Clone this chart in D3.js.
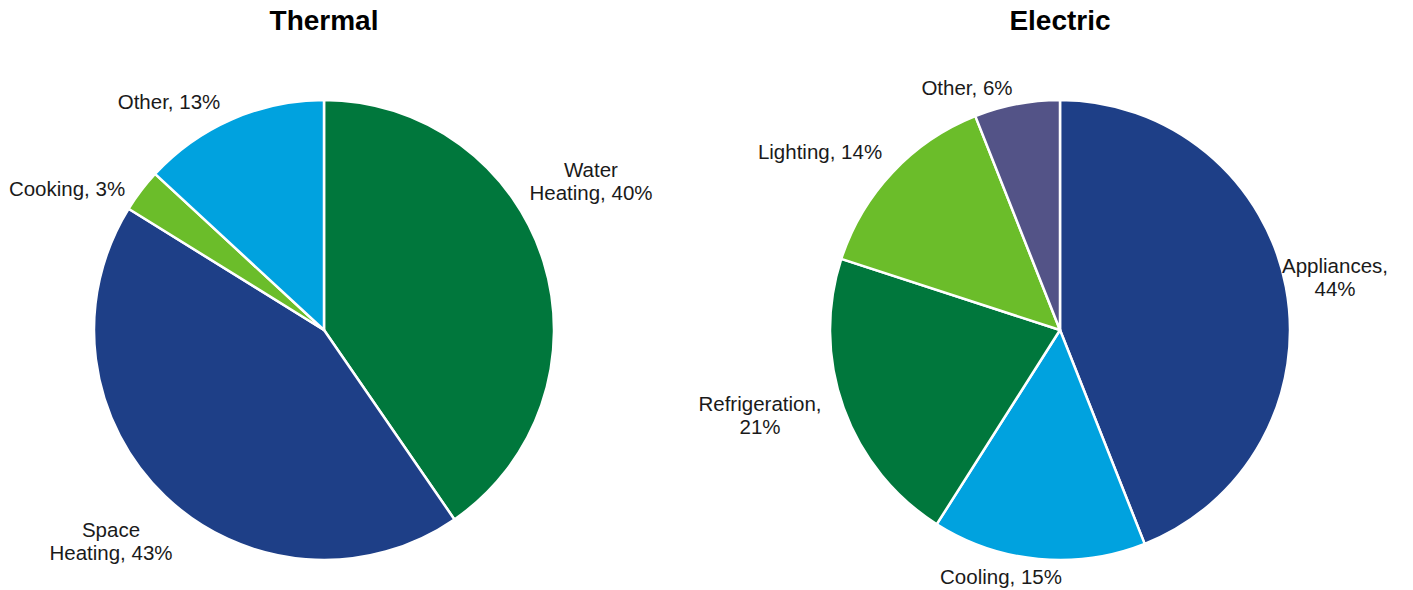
<!DOCTYPE html>
<html>
<head>
<meta charset="utf-8">
<script src="https://cdn.jsdelivr.net/npm/d3@7"></script>
<style>
  body { margin: 0; background: #fff; }
  text { font-family: Arial, "Liberation Sans", sans-serif; fill: #1a1a1a; }
</style>
</head>
<body>
<div class="vis"></div>
<script>
const width = 1413;
const height = 590;
const radius = 230;

// Thermal data (clockwise from 12 o'clock)
const thermalCategories = ["Water Heating", "Space Heating", "Cooking", "Other"];
const thermalValues = [40, 43, 3, 13];

// Electric data
const electricCategories = ["Appliances", "Cooling", "Refrigeration", "Lighting", "Other"];
const electricValues = [44, 15, 21, 14, 6];

// Colours per slice
const thermalColors = ["#00773c", "#1e3f87", "#6bbd2a", "#00a2df"];
const electricColors = ["#1e3f87", "#00a2df", "#00773c", "#6bbd2a", "#535387"];

// Label placement relative to pie centre, and whether to wrap at the first space
const thermalLabelPos = [[267, -153, true], [-213, 207, true], [-257, -134, false], [-155, -221, false]];
const electricLabelPos = [[275, -57, true], [-59, 254, false], [-300, 81, true], [-240, -171, false], [-93, -235, false]];

const svg = d3.select(".vis").append("svg")
    .attr("width", width)
    .attr("height", height);

function drawPie(title, cx, cy, categories, values, colors, labelPos) {
    const dataset = categories.map((c, i) => ({ name: c, value: values[i], idx: i }));

    const pie = d3.pie()
        .value(d => d.value)
        .sort(null);

    const arc = d3.arc()
        .innerRadius(0)
        .outerRadius(radius);

    const g = svg.append("g")
        .attr("transform", `translate(${cx}, ${cy})`);

    g.selectAll("path")
        .data(pie(dataset))
        .enter()
        .append("path")
        .attr("d", arc)
        .attr("fill", d => colors[d.data.idx])
        .attr("stroke", "#fff")
        .attr("stroke-width", 2.5)
        .attr("stroke-linejoin", "round");

    // Title
    svg.append("text")
        .attr("x", cx)
        .attr("y", 30)
        .attr("text-anchor", "middle")
        .style("font-size", "28px")
        .style("font-weight", "bold")
        .style("fill", "#000")
        .text(title);

    // Labels
    dataset.forEach((d, i) => {
        const [dx, dy, wrap] = labelPos[i];
        const full = `${d.name}, ${d.value}%`;
        let lines = [full];
        if (wrap) {
            const k = full.indexOf(" ");
            lines = [full.slice(0, k), full.slice(k + 1)];
        }
        const t = g.append("text")
            .attr("text-anchor", "middle")
            .style("font-size", "20.5px");
        lines.forEach((line, j) => {
            t.append("tspan")
                .attr("x", dx)
                .attr("y", dy + j * 23)
                .text(line);
        });
    });
}

drawPie("Thermal", 324, 330, thermalCategories, thermalValues, thermalColors, thermalLabelPos);
drawPie("Electric", 1060, 330, electricCategories, electricValues, electricColors, electricLabelPos);
</script>
</body>
</html>
